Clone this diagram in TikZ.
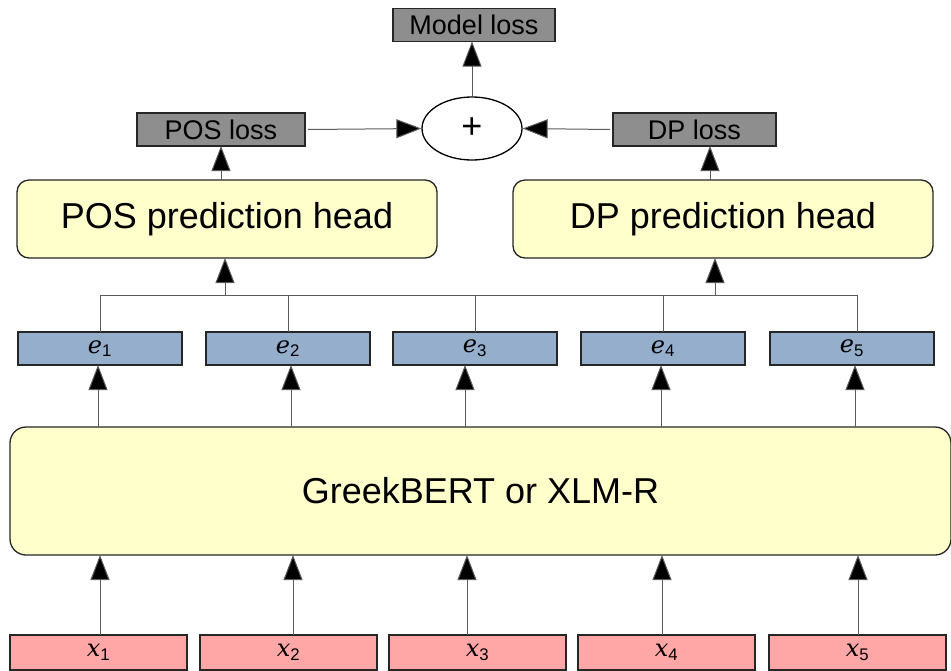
\documentclass[tikz,border=0pt]{standalone}
\usepackage{fontspec}
\setmainfont{Liberation Sans}
\newfontfamily\lblfont{DejaVu Serif}
\usetikzlibrary{arrows.meta,shapes.geometric}
\definecolor{lossgray}{HTML}{8E8E8E}
\definecolor{headyellow}{HTML}{FFFFCC}
\definecolor{embblue}{HTML}{94AECB}
\definecolor{inpink}{HTML}{FFA6A6}
\definecolor{linegray}{HTML}{5A5A5A}
\tikzset{
  box/.style={draw=black!85, line width=1.3pt, inner sep=0pt, outer sep=0pt},
  lossbox/.style={box, fill=lossgray, minimum height=33pt, font=\fontsize{27}{29}\selectfont},
  headbox/.style={box, fill=headyellow, rounded corners=12pt, minimum width=420pt, minimum height=78pt, font=\fontsize{36}{40}\selectfont},
  embbox/.style={box, fill=embblue, minimum width=164pt, minimum height=33pt, font=\lblfont\itshape\fontsize{24}{26}\selectfont},
  inbox/.style={box, fill=inpink, minimum width=177pt, minimum height=35pt, font=\lblfont\itshape\fontsize{24}{26}\selectfont},
  conn/.style={draw=linegray, line width=1pt},
  arr/.style={conn, -{Triangle[length=25pt,width=19pt,fill=black]}},
}
\begin{document}
\begin{tikzpicture}[x=1pt,y=-1pt]
\useasboundingbox (0,0) rectangle (951,670);
% loss nodes
\node[lossbox, minimum width=162pt] (model) at (474,25) {Model loss};
\node[draw=black, line width=1.3pt, ellipse, minimum width=100pt, minimum height=63pt, inner sep=0pt, font=\fontsize{36}{38}\selectfont] (plus) at (472,128.5) {+};
\node[lossbox, minimum width=168pt] (posloss) at (221,129.5) {POS loss};
\node[lossbox, minimum width=163pt] (dploss) at (694.5,129.5) {DP loss};
% heads
\node[headbox] (poshead) at (227,219) {POS prediction head};
\node[headbox] (dphead) at (723,219) {DP prediction head};
% embeddings
\node[embbox] (e1) at (100,348.5) {e$_{\mathrm{1}}$};
\node[embbox] (e2) at (288,348.5) {e$_{\mathrm{2}}$};
\node[embbox] (e3) at (475,348.5) {e$_{\mathrm{3}}$};
\node[embbox] (e4) at (663,348.5) {e$_{\mathrm{4}}$};
\node[embbox] (e5) at (852,348.5) {e$_{\mathrm{5}}$};
% encoder
\node[box, fill=headyellow, rounded corners=16pt, minimum width=941pt, minimum height=128pt, font=\fontsize{36}{40}\selectfont] (bert) at (480.5,491) {GreekBERT or XLM-R};
% inputs
\node[inbox] (x1) at (98.5,652.5) {x$_{\mathrm{1}}$};
\node[inbox] (x2) at (288.5,652.5) {x$_{\mathrm{2}}$};
\node[inbox] (x3) at (477.5,652.5) {x$_{\mathrm{3}}$};
\node[inbox] (x4) at (666.5,652.5) {x$_{\mathrm{4}}$};
\node[inbox] (x5) at (857.5,652.5) {x$_{\mathrm{5}}$};
% tree coordinates
\coordinate (t1) at (100,295);
\coordinate (t5) at (857,295);
\coordinate (b5) at (857,332);
\coordinate (tp) at (225,295);
\coordinate (td) at (715,295);
\draw[conn] (t1) -- (t5);
\draw[conn] (e1.north) -- (t1);
\draw[conn] (e2.north) -- (e2.north |- t1);
\draw[conn] (e3.north) -- (e3.north |- t1);
\draw[conn] (e4.north) -- (e4.north |- t1);
\draw[conn] (b5) -- (t5);
\draw[arr] (tp) -- (tp |- poshead.south);
\draw[arr] (td) -- (td |- dphead.south);
% head to loss
\draw[arr] (posloss.south |- poshead.north) -- (posloss.south);
\draw[arr] (dphead.north -| 710,0) -- (710,0 |- dploss.south);
% losses to plus
\draw[arr] ([xshift=3pt]posloss.east) -- (plus.west);
\draw[arr] ([xshift=-3pt]dploss.west) -- (plus.east);
\draw[arr] (plus.north) -- (plus.north |- model.south);
% encoder to embeddings
\foreach \i/\xx in {1/98,2/291,3/465,4/661,5/855}{
  \draw[arr] (\xx,0 |- bert.north) -- (\xx,0 |- e\i.south);
}
% inputs to encoder
\foreach \i/\xx in {1/100,2/293,3/467,4/662,5/858}{
  \draw[arr] (\xx,0 |- x\i.north) -- (\xx,0 |- bert.south);
}
\end{tikzpicture}
\end{document}
